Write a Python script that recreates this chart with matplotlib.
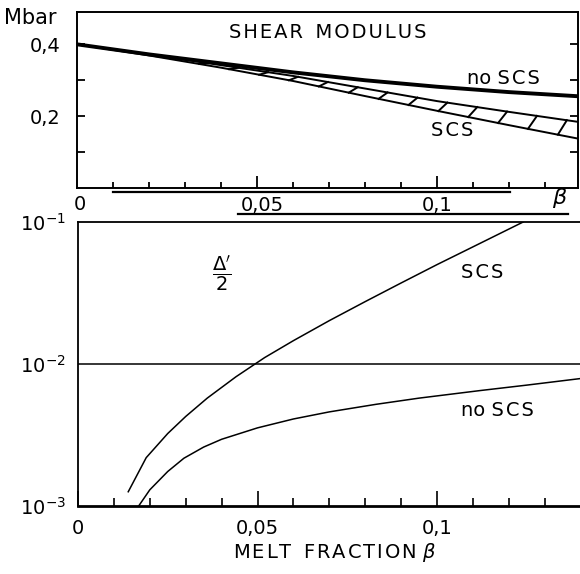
import numpy as np
import matplotlib
matplotlib.use("Agg")
import matplotlib.pyplot as plt
from matplotlib.lines import Line2D

# upper panel: shear modulus (Mbar) against melt fraction
beta_top = [0.0, 0.02, 0.04, 0.06, 0.08, 0.10, 0.12, 0.14]
mu_noscs = [0.400, 0.372, 0.347, 0.322, 0.300, 0.282, 0.267, 0.255]
mu_scs_hi = [0.400, 0.372, 0.342, 0.312, 0.277, 0.242, 0.212, 0.183]
mu_scs_lo = [0.400, 0.369, 0.335, 0.298, 0.256, 0.215, 0.175, 0.136]

# lower panel: Delta'/2 (log scale)
beta_scs = [0.014, 0.019, 0.025, 0.030, 0.036, 0.044, 0.052, 0.060, 0.070,
            0.080, 0.090, 0.100, 0.110, 0.124]
att_scs = [1.26e-3, 2.19e-3, 3.24e-3, 4.27e-3, 5.75e-3, 8.13e-3, 1.11e-2,
           1.46e-2, 2.02e-2, 2.75e-2, 3.72e-2, 5.01e-2, 6.68e-2, 1.0e-1]
beta_noscs = [0.0169, 0.020, 0.025, 0.0295, 0.035, 0.040, 0.050, 0.060,
              0.070, 0.083, 0.095, 0.112, 0.125, 0.140]
att_noscs = [1.0e-3, 1.3e-3, 1.75e-3, 2.17e-3, 2.6e-3, 2.95e-3, 3.55e-3,
             4.1e-3, 4.6e-3, 5.2e-3, 5.75e-3, 6.5e-3, 7.1e-3, 7.9e-3]

W, H = 580, 574
def fx(x):
    return x / W
def fy(y):
    return 1 - y / H

def spaced(s):
    # the lettering in the original is spread out a bit
    return '\u200a'.join(s)

plt.rcParams['font.family'] = 'DejaVu Sans'
plt.rcParams['mathtext.fontset'] = 'dejavusans'
FS = 14

fig = plt.figure(figsize=(5.8, 5.74), dpi=100)

# ---- top panel ----
ax1 = fig.add_axes([fx(77), fy(188), (578 - 77) / W, (188 - 12) / H])
ax1.set_xlim(0, 0.1392)
ax1.set_ylim(0, 0.49)
ax1.plot(beta_top, mu_noscs, color='black', lw=2.8, solid_capstyle='butt')
ax1.plot(beta_top, mu_scs_hi, color='black', lw=1.4)
ax1.plot(beta_top, mu_scs_lo, color='black', lw=1.4)

# hatch strokes inside the SCS band
for b in np.arange(0.034, 0.14, 0.0083):
    b2 = b + 0.0025
    ax1.plot([b, b2], [np.interp(b, beta_top, mu_scs_lo),
                       np.interp(b2, beta_top, mu_scs_hi)],
             color='black', lw=1.4)

ax1.set_xticks([0.05, 0.1])
ax1.set_xticks(np.arange(0.01, 0.14, 0.01), minor=True)
ax1.set_yticks([0.2, 0.4])
ax1.set_yticks([0.1, 0.3], minor=True)
ax1.set_yticklabels(['0,2', '0,4'], fontsize=FS)
ax1.set_xticklabels([])
ax1.tick_params(axis='x', which='major', direction='in', length=9, width=1.3)
ax1.tick_params(axis='x', which='minor', direction='in', length=4.5, width=1.3)
ax1.tick_params(axis='y', which='both', direction='in', length=6, width=1.3,
                right=True, pad=12)
for s in ax1.spines.values():
    s.set_linewidth(1.4)

ax1.text(0.5, 0.885, spaced('SHEAR') + '  ' + spaced('MODULUS'),
         transform=ax1.transAxes, ha='center', va='center', fontsize=FS)
fig.text(fx(503), fy(79), 'no ' + spaced('SCS'), ha='center', va='center',
         fontsize=FS)
fig.text(fx(452), fy(131), spaced('SCS'), ha='center', va='center', fontsize=FS)
fig.text(fx(4), fy(18), 'Mbar', ha='left', va='center', fontsize=FS + 1)

# offset scale labels with rules under the top panel
fig.text(fx(80), fy(204), '0', ha='center', va='center', fontsize=FS)
fig.text(fx(262), fy(205), '0,05', ha='center', va='center', fontsize=FS)
fig.text(fx(437), fy(205), '0,1', ha='center', va='center', fontsize=FS)
fig.text(fx(560), fy(198), r'$\beta$', ha='center', va='center', fontsize=FS + 2)
fig.add_artist(Line2D([fx(113), fx(510)], [fy(192), fy(192)],
                      color='black', lw=1.6))
fig.add_artist(Line2D([fx(238), fx(568)], [fy(214), fy(214)],
                      color='black', lw=1.6))

# ---- bottom panel ----
ax2 = fig.add_axes([fx(78), fy(506), (584 - 78) / W, (506 - 222) / H])
ax2.set_yscale('log')
ax2.set_xlim(0, (584 - 78) / 3590)
ax2.set_ylim(1e-3, 1e-1)
ax2.plot(beta_scs, att_scs, color='black', lw=1.1)
ax2.plot(beta_noscs, att_noscs, color='black', lw=1.1)
ax2.axhline(1e-2, color='black', lw=1.1)

ax2.set_xticks([0, 0.05, 0.1])
ax2.set_xticklabels(['0', '0,05', '0,1'], fontsize=FS)
ax2.set_xticks(np.arange(0.01, 0.14, 0.01), minor=True)
ax2.tick_params(axis='x', which='major', direction='in', length=11, width=1.2,
                pad=9)
ax2.tick_params(axis='x', which='minor', direction='in', length=5.5, width=1.2)
ax2.set_yticks([1e-3, 1e-2, 1e-1])
ax2.set_yticklabels([r'$10^{-3}$', r'$10^{-2}$', r'$10^{-1}$'], fontsize=FS)
ax2.yaxis.set_minor_locator(matplotlib.ticker.NullLocator())
ax2.tick_params(axis='y', which='major', length=0, pad=9)
ax2.spines['right'].set_visible(False)
ax2.spines['left'].set_linewidth(1.3)
ax2.spines['top'].set_linewidth(1.3)
ax2.spines['bottom'].set_linewidth(2.0)

fig.text(fx(482), fy(272), spaced('SCS'), ha='center', va='center', fontsize=FS)
fig.text(fx(497), fy(411), 'no ' + spaced('SCS'), ha='center', va='center',
         fontsize=FS)
fig.text(fx(222), fy(274), r"$\dfrac{\Delta^{\prime}}{2}$", ha='center',
         va='center', fontsize=FS)
fig.text(fx(335), fy(553), spaced('MELT') + '  ' + spaced('FRACTION') + ' '
         + r'$\beta$', ha='center', va='center', fontsize=FS)

fig.savefig('out.png', dpi=100)
